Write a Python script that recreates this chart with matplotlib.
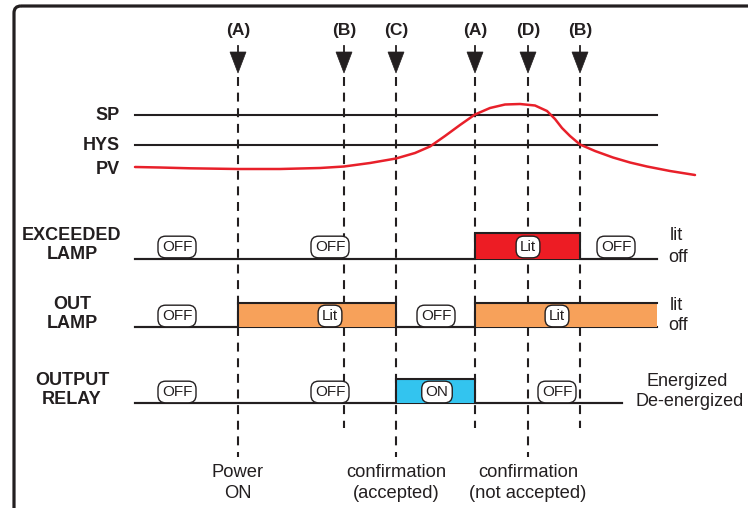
import matplotlib
matplotlib.use("Agg")
import matplotlib.pyplot as plt
from matplotlib.patches import Polygon, Rectangle, FancyBboxPatch

plt.rcParams['font.family'] = ['Liberation Sans Narrow', 'Liberation Sans', 'DejaVu Sans']

# event markers along the time axis
event_x = [238, 344, 396, 475, 528, 580]
event_labels = ['(A)', '(B)', '(C)', '(A)', '(D)', '(B)']
event_line_end = [457, 428, 457, 428, 457, 428]

# bottom captions
caption_x = [238, 396, 528]
caption_text = ['Power\nON', 'confirmation\n(accepted)', 'confirmation\n(not accepted)']

# SP / HYS levels and PV curve
level_names = ['SP', 'HYS']
level_y = [115, 145]
pv_x = [135, 160, 190, 238, 280, 320, 344, 370, 396, 415, 430, 445, 460, 475,
        490, 505, 520, 535, 547, 555, 562, 570, 580, 595, 613, 630, 647, 670, 695]
pv_y = [167, 167.5, 168.3, 169, 169, 168, 166.5, 163, 158.5, 153, 146.5, 136, 125, 114.5,
        108, 104.5, 104, 105.5, 111, 119, 128, 136, 144.5, 151, 157.5, 162.5, 166.5, 171, 175]

# signal rows
row_names = ['EXCEEDED\nLAMP', 'OUT\nLAMP', 'OUTPUT\nRELAY']
row_low = [259, 327, 403]
row_high = [233, 303, 379]
row_end = [657, 657, 622]
row_on = [[(475, 580)], [(238, 396), (475, 657)], [(396, 475)]]
row_colors = ['#ED1C24', '#F7A15A', '#33C4EF']
row_badges = [
    [(177, 'OFF'), (330, 'OFF'), (528, 'Lit'), (616, 'OFF')],
    [(177, 'OFF'), (330, 'Lit'), (436, 'OFF'), (557, 'Lit')],
    [(177, 'OFF'), (330, 'OFF'), (437, 'ON'), (557, 'OFF')],
]
row_state_labels = [('lit', 'off'), ('lit', 'off'), ('Energized', 'De-energized')]

fig = plt.figure(figsize=(7.48, 5.08), dpi=100)
ax = fig.add_axes([0, 0, 1, 1])
ax.set_xlim(0, 748)
ax.set_ylim(508, 0)
ax.axis('off')

ink = '#231F20'

# outer frame with rounded corner
ax.add_patch(FancyBboxPatch((14, 6), 900, 700, boxstyle='round,pad=0,rounding_size=7',
                            fc='none', ec=ink, lw=2.3))

# events: label, arrow, dashed line
for x, lab, yend in zip(event_x, event_labels, event_line_end):
    ax.text(x, 30, lab, ha='center', va='center', fontsize=12.5, fontweight='bold', color=ink)
    ax.plot([x, x], [46, 54], color=ink, lw=1.3)
    ax.add_patch(Polygon([[x - 8, 52], [x + 8, 52], [x, 73]], closed=True, fc=ink, ec=ink, lw=0.5))
    ax.plot([x, x], [77, yend], color=ink, lw=1.5, dashes=(4.3, 3.2), zorder=1)

# captions
for x, t in zip(caption_x, caption_text):
    ax.text(x, 483, t, ha='center', va='center', fontsize=13.2, color=ink, linespacing=1.3)

# SP / HYS lines
for name, y in zip(level_names, level_y):
    ax.plot([135, 657], [y, y], color=ink, lw=1.5, zorder=2)
    ax.text(120, y, name, ha='right', va='center', fontsize=13, fontweight='bold', color=ink)
ax.text(120, 170, 'PV', ha='right', va='center', fontsize=13, fontweight='bold', color=ink)
ax.plot(pv_x, pv_y, color='#E8202A', lw=1.8, zorder=3, solid_capstyle='round')

# signal rows
for i in range(len(row_names)):
    lo, hi, end = row_low[i], row_high[i], row_end[i]
    ax.text(72, (lo + hi) / 2 - 1, row_names[i], ha='center', va='center', fontsize=13,
            fontweight='bold', color=ink, linespacing=1.15)
    # step trace
    xs, ys = [135], [lo]
    for a, b in row_on[i]:
        ax.add_patch(Rectangle((a, hi), b - a, lo - hi, fc=row_colors[i], ec='none', zorder=2))
        xs += [a, a]
        ys += [lo, hi]
        if b < end:
            xs += [b, b]
            ys += [hi, lo]
        else:
            xs += [b]
            ys += [hi]
    if xs[-1] < end:
        xs.append(end)
        ys.append(lo)
    # low baseline drawn across, hidden under fills
    ax.plot([135, end], [lo, lo], color=ink, lw=1.5, zorder=1)
    ax.plot(xs, ys, color=ink, lw=1.5, zorder=3, solid_joinstyle='miter')
    for bx, bt in row_badges[i]:
        ax.text(bx, (lo + hi) / 2 + 1, bt, ha='center', va='center', fontsize=11, color=ink, zorder=5,
                bbox=dict(boxstyle='round,pad=0.25,rounding_size=0.5', fc='white', ec=ink, lw=1.0))
    top_lab, bot_lab = row_state_labels[i]
    if i < 2:
        ax.text(670, hi + 2, top_lab, ha='left', va='center', fontsize=13, color=ink)
        ax.text(668, lo - 2, bot_lab, ha='left', va='center', fontsize=13, color=ink)
    else:
        ax.text(687, hi + 3, top_lab, ha='center', va='center', fontsize=13, color=ink)
        ax.text(690, lo - 1, bot_lab, ha='center', va='center', fontsize=13, color=ink)

fig.savefig('out.png', dpi=100)
